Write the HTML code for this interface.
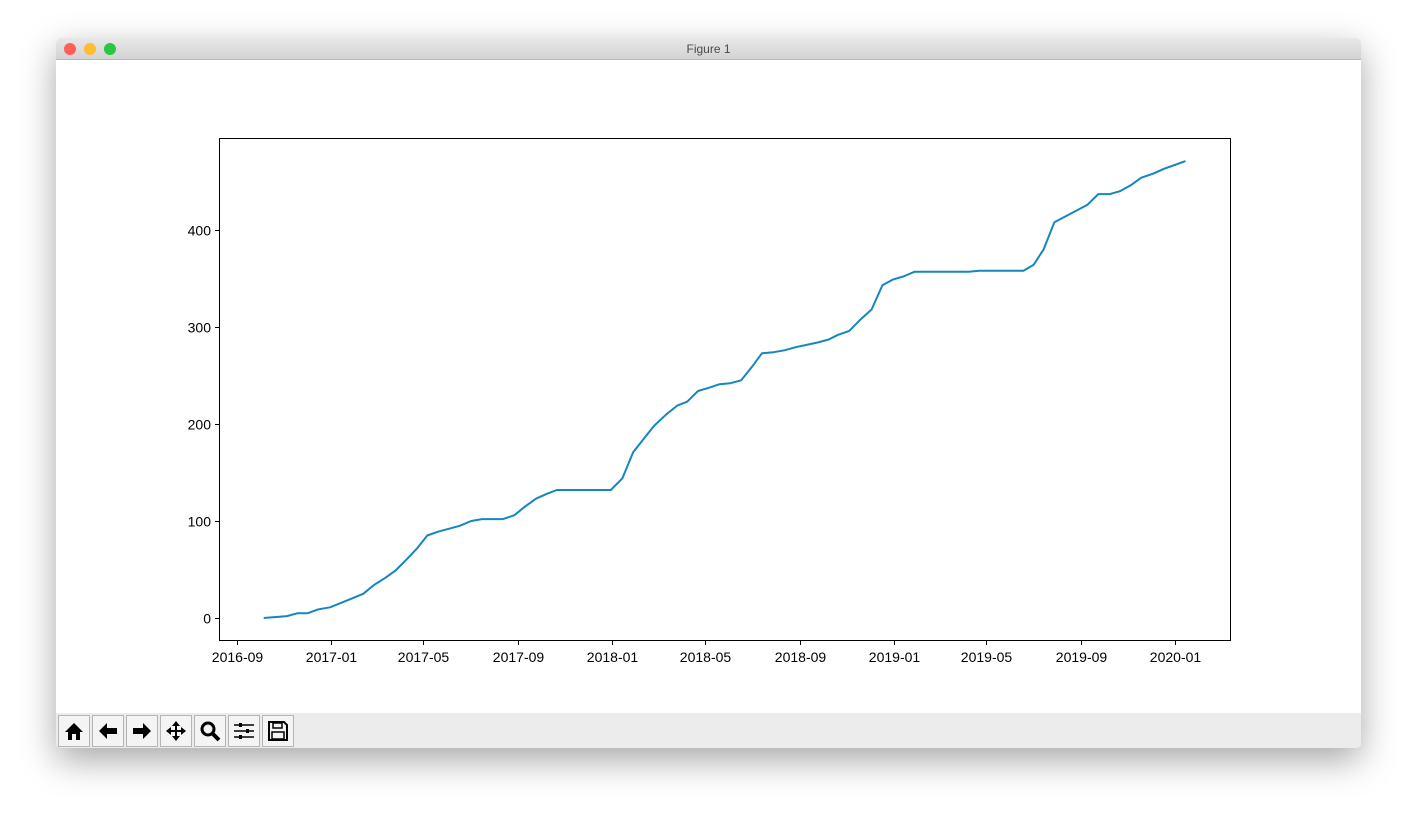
<!DOCTYPE html>
<html><head><meta charset="utf-8"><style>
body{margin:0;width:1417px;height:823px;background:#fff;position:relative;overflow:hidden;font-family:"Liberation Sans",sans-serif}
#win{position:absolute;left:56px;top:38px;width:1305px;height:710px;background:#fff;border-radius:5px;box-shadow:0 12px 35px rgba(0,0,0,0.35);overflow:hidden}
#title{height:21px;background:linear-gradient(#e8e8e8,#d3d3d3);border-bottom:1px solid #b8b8b8;text-align:center;font-size:12px;line-height:22px;color:#4a4a4a}
.dot{position:absolute;top:5px;width:12px;height:12px;border-radius:50%}
#toolbar{position:absolute;left:0;top:675px;width:1305px;height:35px;background:#ececec}
.tb{position:absolute;top:2px;width:32px;height:32px;border:1px solid #b5b5b5;background:#f4f4f4;box-sizing:border-box}
.tb svg{position:absolute;left:4px;top:4px}
</style></head><body>
<div id="win">
<div id="title">Figure 1
<div class="dot" style="left:8px;background:#fe5f57"></div>
<div class="dot" style="left:28px;background:#febc2e"></div>
<div class="dot" style="left:48px;background:#28c840"></div>
</div>
<div id="toolbar">
<div class="tb" style="left:2px"><svg width="22" height="22"><path d="M2 12 L11 3 L20 12 L17 12 L17 20 L13 20 L13 14 L9 14 L9 20 L5 20 L5 12 Z" fill="#000"/></svg></div>
<div class="tb" style="left:36px"><svg width="22" height="22"><path d="M2 11 L10 3 L10 8 L20 8 L20 14 L10 14 L10 19 Z" fill="#000"/></svg></div>
<div class="tb" style="left:70px"><svg width="22" height="22"><path d="M20 11 L12 3 L12 8 L2 8 L2 14 L12 14 L12 19 Z" fill="#000"/></svg></div>
<div class="tb" style="left:104px"><svg width="22" height="22"><path d="M11 1 L15 6 L12 6 L12 10 L16 10 L16 7 L21 11 L16 15 L16 12 L12 12 L12 16 L15 16 L11 21 L7 16 L10 16 L10 12 L6 12 L6 15 L1 11 L6 7 L6 10 L10 10 L10 6 L7 6 Z" fill="#000"/></svg></div>
<div class="tb" style="left:138px"><svg width="22" height="22"><circle cx="9" cy="9" r="6" fill="none" stroke="#000" stroke-width="3"/><path d="M13 13 L20 20" stroke="#000" stroke-width="4"/></svg></div>
<div class="tb" style="left:172px"><svg width="22" height="22"><path d="M1 5H21M1 11H21M1 17H21" stroke="#000" stroke-width="1.5"/><rect x="6" y="3" width="3" height="4"/><rect x="13" y="9" width="3" height="4"/><rect x="6" y="15" width="3" height="4"/></svg></div>
<div class="tb" style="left:206px"><svg width="22" height="22"><path d="M2 2H17L20 5V20H2Z" fill="none" stroke="#000" stroke-width="2"/><rect x="6" y="3" width="9" height="5" fill="none" stroke="#000" stroke-width="1.5"/><rect x="5" y="12" width="12" height="7" fill="none" stroke="#000" stroke-width="1.5"/></svg></div>
</div>
</div>
<svg id="chart" width="1417" height="823" style="position:absolute;left:0;top:0"></svg>
<script>
const dates=["2016-10-06","2016-11-05","2016-11-19","2016-12-02","2016-12-16","2016-12-31","2017-01-28","2017-02-12","2017-02-26","2017-03-12","2017-03-26","2017-04-10","2017-04-23","2017-05-06","2017-05-20","2017-06-17","2017-07-02","2017-07-16","2017-08-12","2017-08-27","2017-09-10","2017-09-24","2017-10-08","2017-10-21","2017-12-30","2018-01-14","2018-01-28","2018-02-10","2018-02-24","2018-03-12","2018-03-26","2018-04-08","2018-04-22","2018-05-05","2018-05-20","2018-06-03","2018-06-17","2018-07-01","2018-07-14","2018-07-29","2018-08-12","2018-08-26","2018-09-24","2018-10-08","2018-10-21","2018-11-04","2018-11-19","2018-12-03","2018-12-17","2018-12-31","2019-01-13","2019-01-28","2019-04-08","2019-04-22","2019-06-18","2019-07-01","2019-07-14","2019-07-28","2019-09-09","2019-09-23","2019-10-08","2019-10-21","2019-11-04","2019-11-18","2019-12-03","2019-12-17","2019-12-31","2020-01-14"];
const values=[0,2,5,5,9,11,20,25,34,41,49,61,72,85,89,95,100,102,102,106,115,123,128,132,132,144,171,184,198,210,219,223,234,237,241,242,245,259,273,274,276,279,284,287,292,296,308,318,343,349,352,357,357,358,358,364,380,408,426,437,437,440,446,454,458,463,467,471];
const xTicks=["2016-09","2017-01","2017-05","2017-09","2018-01","2018-05","2018-09","2019-01","2019-05","2019-09","2020-01"];
const yTicks=[0,100,200,300,400];
const L=219,R=1231,T=138,B=641;
const d0=Date.parse("2016-08-09"),d1=Date.parse("2020-03-13");
const xs=d=>L+(Date.parse(d)-d0)/(d1-d0)*(R-L);
const ymin=-23.7,ymax=494.8;
const ys=v=>B-(v-ymin)/(ymax-ymin)*(B-T);
const svg=document.getElementById('chart');const NS="http://www.w3.org/2000/svg";
function mk(t,a){const e=document.createElementNS(NS,t);for(const k in a)e.setAttribute(k,a[k]);svg.appendChild(e);return e;}
const frame=mk('rect',{x:L+0.5,y:T+0.5,width:R-L-1,height:B-T-1,fill:'none',stroke:'#000','stroke-width':1});


xTicks.forEach(t=>{const x=Math.round(xs(t+"-01"))+0.5;
const l=mk('line',{x1:x,x2:x,y1:B,y2:B+4,stroke:'#000'});


const tx=mk('text',{x:x,y:B+21,'text-anchor':'middle','font-size':14,'font-family':'Liberation Sans, sans-serif'});tx.textContent=t;

});
yTicks.forEach(t=>{const y=Math.round(ys(t))+0.5;
const l=mk('line',{x1:L-4,x2:L,y1:y,y2:y,stroke:'#000'});


const tx=mk('text',{x:L-8,y:y+5,'text-anchor':'end','font-size':14,'font-family':'Liberation Sans, sans-serif'});tx.textContent=t;

});
const pts=dates.map((d,i)=>xs(d).toFixed(1)+','+ys(values[i]).toFixed(1)).join(' ');
const pl=mk('polyline',{points:pts,fill:'none',stroke:'#1586be','stroke-width':2,'stroke-linejoin':'round'});


</script>
</body></html>
